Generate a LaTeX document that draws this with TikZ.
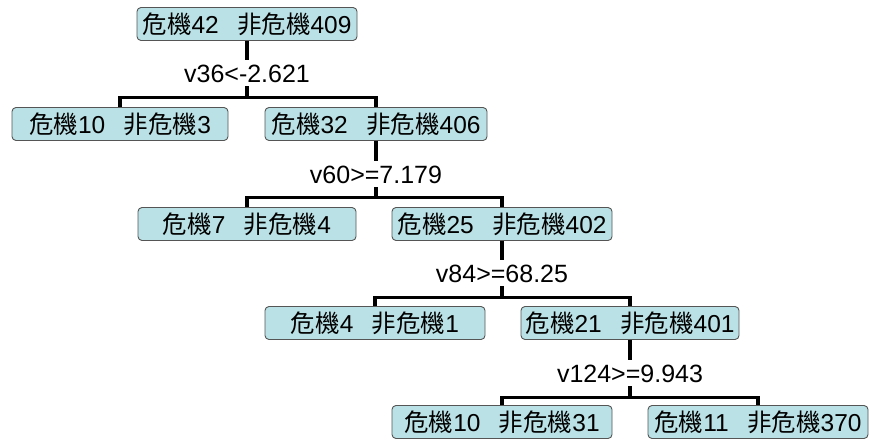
\documentclass[tikz,border=0pt]{standalone}
\usepackage{fontspec}
\setmainfont{Liberation Sans}
\newfontfamily\cjk{Noto Sans CJK TC}
\definecolor{boxfill}{RGB}{186,225,229}
\definecolor{boxline}{RGB}{85,85,85}
\newcommand{\cnt}[2]{{\cjk 危機}#1\hspace{0.75em}{\cjk 非危機}#2}
\begin{document}
\begin{tikzpicture}[x=1pt,y=-1pt,
  leaf/.style={draw=boxline,line width=0.9pt,fill=boxfill,rounded corners=4pt,
    minimum width=218pt,minimum height=33pt,inner sep=0pt,
    font=\fontsize{24.5}{27}\selectfont},
  split/.style={inner xsep=2pt,inner ysep=4pt,text height=18pt,text depth=0pt,
    font=\fontsize{25}{28}\selectfont},
  edge/.style={line width=3.5pt,line cap=butt}]
\useasboundingbox (0,0) rectangle (869,439);
% nodes
\node[leaf,minimum width=220pt] (n0) at (247,24) {\cnt{42}{409}};
\node[split] (s0) at (247,73) {v36<-2.621};
\node[leaf,minimum width=216pt] (n1) at (120,124) {\cnt{10}{3}};
\node[leaf,minimum width=222pt] (n2) at (376,124) {\cnt{32}{406}};
\node[split] (s1) at (376,174) {v60>=7.179};
\node[leaf] (n3) at (247,224) {\cnt{7}{4}};
\node[leaf,minimum width=220pt] (n4) at (502,224) {\cnt{25}{402}};
\node[split] (s2) at (502,273) {v84>=68.25};
\node[leaf,minimum width=220pt] (n5) at (375,323) {\cnt{4}{1}};
\node[leaf] (n6) at (630,323) {\cnt{21}{401}};
\node[split] (s3) at (630,373) {v124>=9.943};
\node[leaf,minimum width=220pt] (n7) at (502,422) {\cnt{10}{31}};
\node[leaf,minimum width=220pt] (n8) at (758,422) {\cnt{11}{370}};
% bar coordinates
\coordinate (b0) at (247,97.5);
\coordinate (b1) at (376,197.5);
\coordinate (b2) at (502,297.5);
\coordinate (b3) at (630,397.5);
% connectors
\draw[edge] (n0.south) -- (s0.north);
\draw[edge] (s0.south) -- (b0);
\draw[edge] (n1.north) -- (n1.north |- b0) -- (n2.north |- b0) -- (n2.north);
\draw[edge] (n2.south) -- (s1.north);
\draw[edge] (s1.south) -- (b1);
\draw[edge] (n3.north) -- (n3.north |- b1) -- (n4.north |- b1) -- (n4.north);
\draw[edge] (n4.south) -- (s2.north);
\draw[edge] (s2.south) -- (b2);
\draw[edge] (n5.north) -- (n5.north |- b2) -- (n6.north |- b2) -- (n6.north);
\draw[edge] (n6.south) -- (s3.north);
\draw[edge] (s3.south) -- (b3);
\draw[edge] (n7.north) -- (n7.north |- b3) -- (n8.north |- b3) -- (n8.north);
\end{tikzpicture}
\end{document}
